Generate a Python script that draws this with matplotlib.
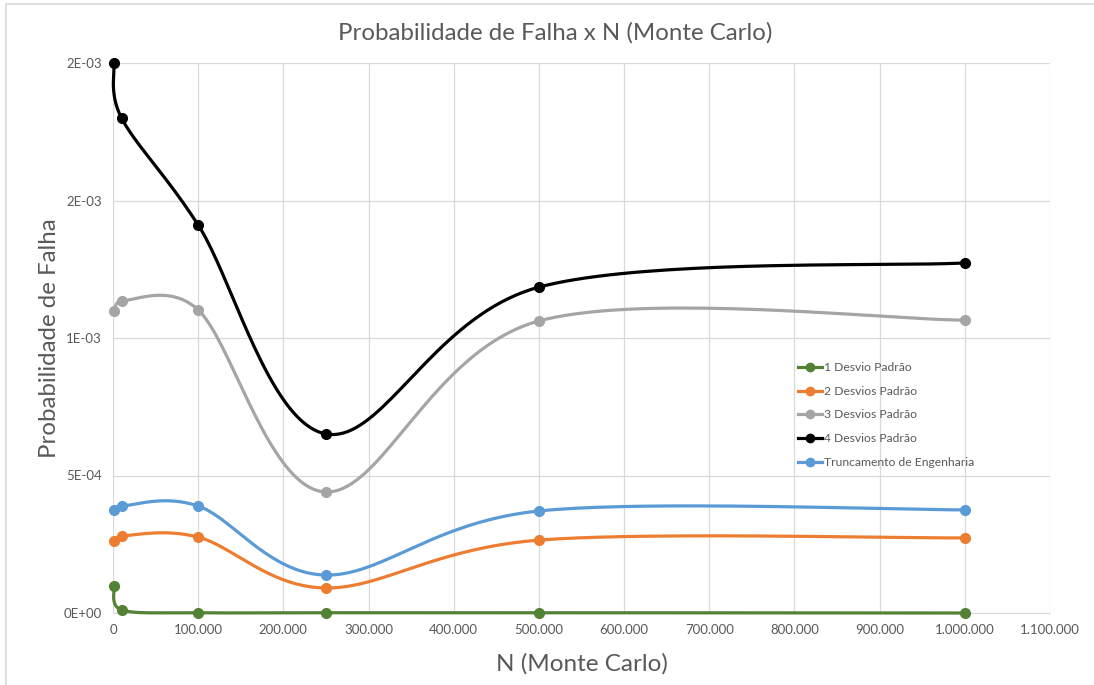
import numpy as np
import matplotlib
matplotlib.use("Agg")
import matplotlib.pyplot as plt
from matplotlib.patches import Rectangle
from matplotlib.ticker import FuncFormatter, MultipleLocator

# Monte Carlo sample sizes and failure probabilities for each truncation rule
n_sim = [1000, 10000, 100000, 250000, 500000, 1000000]
pf_1dp = [9.8e-5, 1.1e-5, 1.0e-6, 1.0e-6, 1.0e-6, 0.0]
pf_2dp = [2.62e-4, 2.80e-4, 2.76e-4, 9.1e-5, 2.65e-4, 2.73e-4]
pf_3dp = [1.098e-3, 1.135e-3, 1.102e-3, 4.40e-4, 1.062e-3, 1.065e-3]
pf_4dp = [2.0e-3, 1.80e-3, 1.411e-3, 6.51e-4, 1.185e-3, 1.273e-3]
pf_trunc = [3.75e-4, 3.89e-4, 3.89e-4, 1.38e-4, 3.71e-4, 3.75e-4]

labels = ["1 Desvio Padrão", "2 Desvios Padrão", "3 Desvios Padrão",
          "4 Desvios Padrão", "Truncamento de Engenharia"]
colors = ["#548235", "#ED7D31", "#A5A5A5", "#000000", "#5B9BD5"]

XMAX, YMAX = 1100000, 0.002
W_PX, H_PX = 937.0, 550.0

plt.rcParams['font.family'] = ['Lato', 'DejaVu Sans']
fig = plt.figure(figsize=(10.94, 6.85), dpi=100)
ax = fig.add_axes([113 / 1094, 1 - 613 / 685, 937 / 1094, 550 / 685])


def smooth(xs, ys, steps=40):
    # bezier smoothing done in screen-like units so the curve shape follows the plot
    px = np.array(xs) / XMAX * W_PX
    py = np.array(ys) / YMAX * H_PX
    pts = np.column_stack([px, py])
    n = len(pts)
    out = [pts[0]]
    t = np.linspace(0, 1, steps)[1:, None]
    for i in range(n - 1):
        p0 = pts[max(i - 1, 0)]
        p1 = pts[i]
        p2 = pts[i + 1]
        p3 = pts[min(i + 2, n - 1)]
        d12 = np.linalg.norm(p2 - p1)
        d02 = np.linalg.norm(p2 - p0)
        d13 = np.linalg.norm(p3 - p1)
        f1 = min(1 / 6, 0.5 * d12 / d02) if d02 > 0 else 0
        f2 = min(1 / 6, 0.5 * d12 / d13) if d13 > 0 else 0
        c1 = p1 + f1 * (p2 - p0)
        c2 = p2 - f2 * (p3 - p1)
        seg = ((1 - t) ** 3) * p1 + 3 * ((1 - t) ** 2) * t * c1 \
            + 3 * (1 - t) * t ** 2 * c2 + t ** 3 * p2
        out.extend(seg)
    out = np.array(out)
    return out[:, 0] / W_PX * XMAX, out[:, 1] / H_PX * YMAX


series = [pf_1dp, pf_2dp, pf_3dp, pf_4dp, pf_trunc]
for ys, lab, col in zip(series, labels, colors):
    sx, sy = smooth(n_sim, ys)
    ax.plot(sx, sy, color=col, lw=2.3, clip_on=False, zorder=3,
            solid_capstyle='round')
    ax.plot(n_sim, ys, 'o', color=col, ms=7, clip_on=False, zorder=4)
    ax.plot([], [], '-o', color=col, lw=2.3, ms=6, label=lab)

ax.set_xlim(0, XMAX)
ax.set_ylim(0, YMAX)
ax.xaxis.set_major_locator(MultipleLocator(100000))
ax.yaxis.set_major_locator(MultipleLocator(0.0005))
ax.xaxis.set_major_formatter(FuncFormatter(lambda v, p: f"{int(round(v)):,}".replace(",", ".")))
ax.yaxis.set_major_formatter(FuncFormatter(lambda v, p: "{:.0E}".format(v)))

ax.grid(True, color="#D9D9D9", lw=0.9)
ax.set_axisbelow(True)
for s in ["top", "right", "left"]:
    ax.spines[s].set_visible(False)
ax.spines["bottom"].set_color("#D9D9D9")
ax.tick_params(length=0, colors="#595959", labelsize=9.5)
ax.tick_params(axis='x', pad=8)
ax.tick_params(axis='y', pad=8)

fig.text(555 / 1094, 1 - 33 / 685, "Probabilidade de Falha x N (Monte Carlo)",
         fontsize=17.3, color="#595959", ha="center", va="center")
ax.set_xlabel("N (Monte Carlo)", fontsize=17.5, color="#595959", labelpad=12)
ax.set_ylabel("Probabilidade de Falha", fontsize=17.3, color="#595959")
ax.yaxis.set_label_coords(-0.057, 0.5)

leg = ax.legend(loc="upper left", bbox_to_anchor=(0.719, 0.476), frameon=False,
                fontsize=8.7, labelcolor="#595959", handlelength=2.0,
                handletextpad=0.2, labelspacing=1.05)

fig.patches.append(Rectangle((6 / 1094, -0.1), 1.2, 1.1 - 4 / 685,
                             transform=fig.transFigure, fill=False,
                             edgecolor="#D9D9D9", lw=1.2))

fig.savefig("out.png", dpi=100)
